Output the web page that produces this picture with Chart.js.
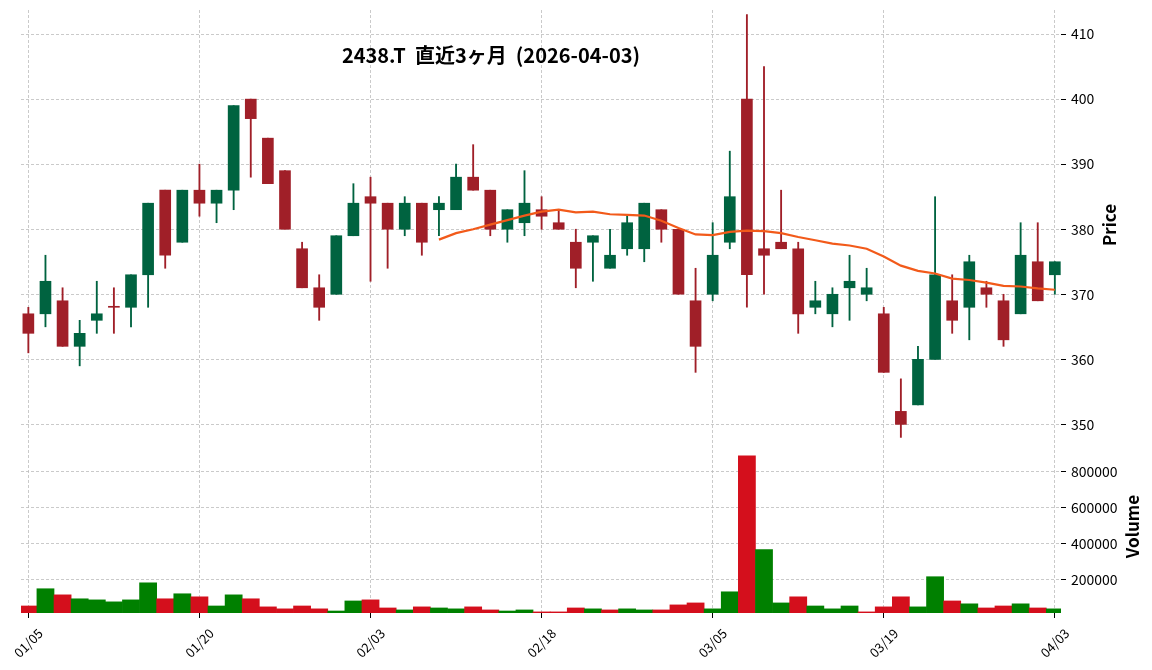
<!DOCTYPE html>
<html>
<head>
<meta charset="utf-8">
<script src="https://cdn.jsdelivr.net/npm/chart.js@4.4.1/dist/chart.umd.min.js"></script>
<style>
  html, body { margin: 0; padding: 0; background: #fff; }
  canvas { display: block; }
</style>
</head>
<body>
<canvas id="chart" width="1152" height="670"></canvas>
<script>
// 2438.T daily candles, last 3 months (61 trading days)
const opens = [367,367,369,362,366,368,368,373,386,378,
  386,384,386,400,394,389,377,371,370,379,
  385,384,380,384,383,383,388,386,380,381,
  383,381,378,378,374,377,377,383,380,369,
  370,378,400,377,378,377,368,367,371,370,
  367,352,353,360,369,368,371,369,367,375,373];
const highs = [368,376,371,366,372,371,373,384,386,386,
  390,386,399,400,394,389,378,373,379,387,
  388,384,385,384,385,390,393,386,383,389,
  385,383,380,379,380,382,384,383,380,374,
  381,392,413,405,386,378,372,371,376,374,
  368,357,362,385,373,376,372,370,381,381,375];
const lows = [361,365,362,359,364,364,365,368,374,378,
  382,381,383,388,387,380,371,366,370,379,
  372,374,379,376,379,383,386,379,378,379,
  380,380,371,372,374,376,375,378,370,358,
  369,377,368,370,377,364,367,365,366,369,
  358,348,353,360,364,363,368,362,367,369,370];
const closes = [364,372,362,364,367,368,373,384,376,386,
  384,386,399,397,387,380,371,368,379,384,
  384,380,384,378,384,388,386,380,383,384,
  382,380,374,379,376,381,384,380,370,362,
  376,385,373,376,377,367,369,370,372,371,
  358,350,360,373,366,375,370,363,376,369,375];
const volumes = [52000,148000,114000,92000,86000,75000,86000,181000,92000,120000,
  103000,52000,114000,92000,47000,36000,52000,36000,24000,80000,
  86000,41000,30000,47000,41000,36000,47000,30000,24000,30000,
  19000,19000,41000,36000,30000,36000,30000,30000,58000,69000,
  36000,131000,888000,366000,69000,103000,52000,36000,52000,19000,
  47000,103000,47000,215000,80000,64000,41000,52000,64000,41000,36000];
// 25-day moving average, starts at day 24
const maStart = 24;
const ma25 = [378.4,379.4,380.0,380.7,381.4,382.1,382.7,383.0,382.6,382.7,
  382.3,382.2,382.1,381.3,380.2,379.2,379.1,379.6,379.8,379.7,
  379.4,378.8,378.3,377.8,377.5,377.0,375.8,374.4,373.6,373.2,
  372.4,372.2,371.8,371.3,371.2,370.9,370.7];

const dateTickIdx = [0, 10, 20, 30, 40, 50, 60];
const dateTickLabels = ['01/05', '01/20', '02/03', '02/18', '03/05', '03/19', '04/03'];
const priceTicks = [350, 360, 370, 380, 390, 400, 410];
const volumeTicks = [200000, 400000, 600000, 800000];
const titleText = '2438.T  直近3ヶ月  (2026-04-03)';

const UP = '#006340', DOWN = '#a01f28';
const VUP = '#008000', VDOWN = '#d40f1c';
const GRID = '#bdbdbd';
const FONT = '"Noto Sans CJK JP", "Noto Sans", sans-serif';

const candleColors = closes.map((c, i) => c > opens[i] ? UP : DOWN);
const volColors = closes.map((c, i) => (i > 0 && c > closes[i - 1]) ? VUP : VDOWN);

function vText(ctx, text, x, y) {
  ctx.save();
  ctx.translate(x, y);
  ctx.rotate(-Math.PI / 2);
  ctx.fillText(text, 0, 0);
  ctx.restore();
}

// fixed axis width, no extra label padding at the panel ends
function fitY(s) {
  s.width = 91;
  s.paddingTop = 0;
  s.paddingBottom = 0;
}

const overlay = {
  id: 'overlay',
  afterDraw(chart) {
    const ctx = chart.ctx;
    const xs = chart.scales.x, yp = chart.scales.y, yv = chart.scales.yv;
    ctx.save();
    ctx.fillStyle = '#000';
    ctx.textAlign = 'center';
    ctx.textBaseline = 'middle';
    ctx.font = 'bold 20px ' + FONT;
    ctx.fillText(titleText, 491, 55);

    ctx.font = '600 17px ' + FONT;
    vText(ctx, 'Price', 1110, (yp.top + yp.bottom) / 2);
    vText(ctx, 'Volume', 1133, (yv.top + yv.bottom) / 2);

    // date labels, rotated 45 degrees and centred under each tick
    ctx.font = '13px ' + FONT;
    dateTickIdx.forEach((v, i) => {
      ctx.save();
      ctx.translate(xs.getPixelForValue(v), chart.chartArea.bottom + 30);
      ctx.rotate(-Math.PI / 4);
      ctx.fillText(dateTickLabels[i], 0, 0);
      ctx.restore();
    });
    ctx.restore();
  }
};

const idx = closes.map((c, i) => i);

new Chart(document.getElementById('chart'), {
  type: 'bar',
  data: {
    datasets: [
      {
        type: 'line',
        label: 'MA25',
        data: ma25.map((v, i) => ({ x: maStart + i, y: v })),
        yAxisID: 'y',
        borderColor: '#f25a1a',
        borderWidth: 2.2,
        pointRadius: 0,
        tension: 0,
        order: 0
      },
      {
        label: 'body',
        data: idx.map(i => ({ x: i, y: [opens[i], closes[i]] })),
        yAxisID: 'y',
        backgroundColor: candleColors,
        barThickness: 11,
        minBarLength: 1,
        grouped: false,
        order: 1
      },
      {
        label: 'wick',
        data: idx.map(i => ({ x: i, y: [lows[i], highs[i]] })),
        yAxisID: 'y',
        backgroundColor: candleColors,
        barThickness: 1.2,
        grouped: false,
        order: 2
      },
      {
        label: 'Volume',
        data: idx.map(i => ({ x: i, y: volumes[i] })),
        yAxisID: 'yv',
        backgroundColor: volColors,
        barPercentage: 1,
        categoryPercentage: 1,
        grouped: false,
        order: 3
      }
    ]
  },
  options: {
    responsive: false,
    animation: false,
    devicePixelRatio: 1,
    layout: { padding: { left: 21, top: 10, right: 0, bottom: 0 } },
    plugins: { legend: { display: false }, tooltip: { enabled: false }, title: { display: false } },
    scales: {
      x: {
        type: 'linear',
        min: -0.43,
        max: 60.36,
        offset: false,
        afterBuildTicks: s => { s.ticks = dateTickIdx.map(v => ({ value: v })); },
        afterFit: s => { s.height = 57; },
        ticks: { display: false, autoSkip: false },
        grid: { offset: false, color: GRID, lineWidth: 0.8, tickLength: 5, tickColor: '#000', tickBorderDash: [], tickWidth: 1 },
        border: { display: false, dash: [3, 2] }
      },
      y: {
        type: 'linear',
        position: 'right',
        stack: 'panels',
        stackWeight: 430,
        min: 347.6,
        max: 413.7,
        afterBuildTicks: s => { s.ticks = priceTicks.map(v => ({ value: v })); },
        afterFit: fitY,
        ticks: { color: '#000', padding: 5, font: { family: FONT, size: 14 } },
        grid: { color: GRID, lineWidth: 0.8, tickLength: 5, tickColor: '#000', tickBorderDash: [], tickWidth: 1 },
        border: { display: false, dash: [3, 2] }
      },
      yv: {
        type: 'linear',
        position: 'right',
        stack: 'panels',
        stackWeight: 173,
        min: 12900,
        max: 976500,
        afterBuildTicks: s => { s.ticks = volumeTicks.map(v => ({ value: v })); },
        afterFit: fitY,
        ticks: { color: '#000', padding: 5, font: { family: FONT, size: 14 }, callback: v => String(v) },
        grid: { color: GRID, lineWidth: 0.8, tickLength: 5, tickColor: '#000', tickBorderDash: [], tickWidth: 1 },
        border: { display: false, dash: [3, 2] }
      }
    }
  },
  plugins: [overlay]
});
</script>
</body>
</html>
